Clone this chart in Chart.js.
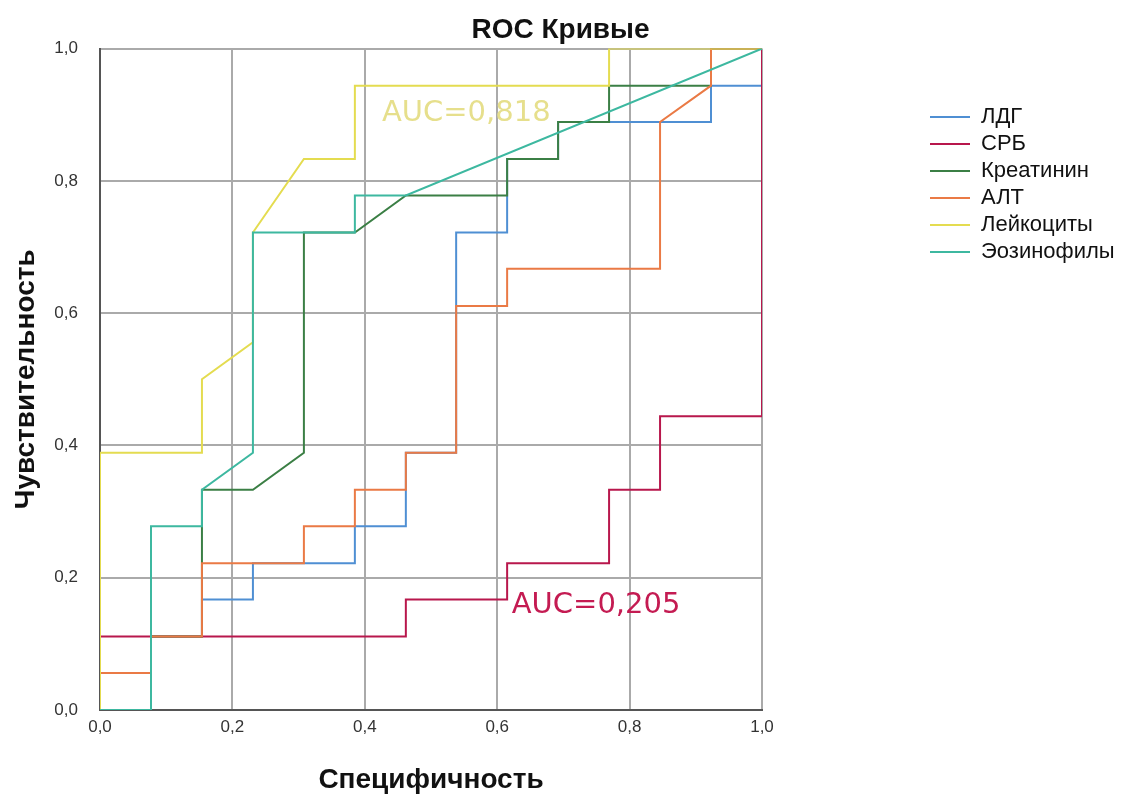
<!DOCTYPE html>
<html lang="ru">
<head>
<meta charset="utf-8">
<title>ROC Кривые</title>
<script src="https://cdn.jsdelivr.net/npm/chart.js@4.4.1/dist/chart.umd.min.js"></script>
<style>
  html, body { margin: 0; padding: 0; background: #fff; }
  .chart { position: relative; width: 1121px; height: 799px; }
</style>
</head>
<body>
<div class="chart"><canvas id="roc"></canvas></div>
<script>
// ROC step curves: x = 1 - specificity, y = sensitivity
const ldgX = [0, 0, 0.077, 0.077, 0.154, 0.154, 0.231, 0.231, 0.385, 0.385, 0.462, 0.462, 0.538, 0.538, 0.615, 0.615, 0.692, 0.692, 0.923, 0.923, 1, 1];
const ldgY = [0, 0.056, 0.056, 0.111, 0.111, 0.167, 0.167, 0.222, 0.222, 0.278, 0.278, 0.389, 0.389, 0.722, 0.722, 0.833, 0.833, 0.889, 0.889, 0.944, 0.944, 1];

const crpX = [0, 0, 0.462, 0.462, 0.615, 0.615, 0.769, 0.769, 0.846, 0.846, 1, 1];
const crpY = [0, 0.111, 0.111, 0.167, 0.167, 0.222, 0.222, 0.333, 0.333, 0.444, 0.444, 1];

const creaX = [0, 0, 0.077, 0.077, 0.154, 0.154, 0.231, 0.308, 0.308, 0.385, 0.462, 0.615, 0.615, 0.692, 0.692, 0.769, 0.769, 0.923, 0.923, 1];
const creaY = [0, 0.056, 0.056, 0.111, 0.111, 0.333, 0.333, 0.389, 0.722, 0.722, 0.778, 0.778, 0.833, 0.833, 0.889, 0.889, 0.944, 0.944, 1, 1];

const altX = [0, 0, 0.077, 0.077, 0.154, 0.154, 0.308, 0.308, 0.385, 0.385, 0.462, 0.462, 0.538, 0.538, 0.615, 0.615, 0.846, 0.846, 0.923, 0.923, 1];
const altY = [0, 0.056, 0.056, 0.111, 0.111, 0.222, 0.222, 0.278, 0.278, 0.333, 0.333, 0.389, 0.389, 0.611, 0.611, 0.667, 0.667, 0.889, 0.944, 1, 1];

const leukX = [0, 0, 0.154, 0.154, 0.231, 0.231, 0.308, 0.385, 0.385, 0.769, 0.769, 1];
const leukY = [0, 0.389, 0.389, 0.5, 0.556, 0.722, 0.833, 0.833, 0.944, 0.944, 1, 1];

const eosX = [0, 0.077, 0.077, 0.154, 0.154, 0.231, 0.231, 0.385, 0.385, 0.462, 1];
const eosY = [0, 0, 0.278, 0.278, 0.333, 0.389, 0.722, 0.722, 0.778, 0.778, 1];

const seriesNames = ['ЛДГ', 'СРБ', 'Креатинин', 'АЛТ', 'Лейкоциты', 'Эозинофилы'];
const tickLabels = ['0,0', '0,2', '0,4', '0,6', '0,8', '1,0'];
const aucTexts = ['AUC=0,818', 'AUC=0,205'];

const colors = ['#4f8fd3', '#b8174c', '#3b7f45', '#ea7a45', '#e4dc50', '#3db8a0'];
// later SPSS series sit on top
const drawOrder = [6, 5, 4, 3, 2, 1];

const curves = [[ldgX, ldgY], [crpX, crpY], [creaX, creaY], [altX, altY], [leukX, leukY], [eosX, eosY]];

const datasets = curves.map(([xs, ys], i) => ({
  label: seriesNames[i],
  data: xs.map((x, j) => ({ x, y: ys[j] })),
  borderColor: colors[i],
  backgroundColor: colors[i],
  borderWidth: 2,
  pointRadius: 0,
  tension: 0,
  order: drawOrder[i],
}));

// AUC notes, placed in data units
const aucNotes = [
  { text: aucTexts[0], x: 0.426, y: 0.902, color: '#e6df8c' },
  { text: aucTexts[1], x: 0.622, y: 0.158, color: '#c41b52' },
];

const aucPlugin = {
  id: 'aucNotes',
  afterDatasetsDraw(chart) {
    const { ctx, scales } = chart;
    ctx.save();
    ctx.font = '29px "DejaVu Sans"';
    ctx.textAlign = 'left';
    ctx.textBaseline = 'middle';
    aucNotes.forEach(n => {
      ctx.fillStyle = n.color;
      ctx.fillText(n.text, scales.x.getPixelForValue(n.x), scales.y.getPixelForValue(n.y));
    });
    ctx.restore();
  },
};

// fixed legend width so the items sit where the original has them
const legendWidthPlugin = {
  id: 'legendWidth',
  beforeInit(chart) {
    const fit = chart.legend.fit;
    chart.legend.fit = function () {
      fit.call(this);
      this.width = 196;
    };
  },
};

const sans = '"Liberation Sans", Arial, sans-serif';
const axisFont = { family: sans, size: 17 };
const titleFont = { family: sans, size: 28, weight: 'bold' };

new Chart(document.getElementById('roc'), {
  type: 'line',
  data: { datasets },
  options: {
    responsive: true,
    maintainAspectRatio: false,
    animation: false,
    layout: { padding: 0 },
    scales: {
      x: {
        type: 'linear',
        min: 0,
        max: 1,
        ticks: {
          stepSize: 0.2,
          padding: 7,
          color: '#333',
          font: axisFont,
          callback: (v, i) => tickLabels[i],
        },
        grid: { color: '#aaaaaa', lineWidth: 2, drawTicks: false },
        border: { color: '#555', width: 2 },
        title: { display: true, text: 'Специфичность', color: '#111', font: titleFont, padding: { top: 0, bottom: 2 } },
        afterFit: s => { s.height = 89; },
      },
      y: {
        type: 'linear',
        min: 0,
        max: 1,
        ticks: {
          stepSize: 0.2,
          padding: 22,
          color: '#333',
          font: axisFont,
          callback: (v, i) => tickLabels[i],
        },
        grid: { color: '#aaaaaa', lineWidth: 2, drawTicks: false },
        border: { color: '#555', width: 2 },
        title: { display: true, text: 'Чувствительность', color: '#111', font: titleFont, padding: { top: 9, bottom: 0 } },
        afterFit: s => { s.width = 100; },
      },
      gap: {
        type: 'linear',
        position: 'right',
        display: true,
        grid: { display: false },
        border: { display: false },
        ticks: { display: false },
        afterFit: s => { s.width = 163; },
      },
    },
    plugins: {
      title: {
        display: true,
        text: 'ROC Кривые',
        color: '#111',
        font: { family: sans, size: 28, weight: 'bold' },
        padding: { top: 13, bottom: 2 },
      },
      legend: {
        position: 'right',
        align: 'start',
        title: { display: true, text: ' ', font: { size: 10 }, padding: { top: 89, bottom: 0 } },
        labels: {
          usePointStyle: true,
          pointStyle: 'line',
          pointStyleWidth: 40,
          padding: 5,
          color: '#111',
          font: { family: sans, size: 22 },
          sort: (a, b) => a.datasetIndex - b.datasetIndex,
        },
      },
      tooltip: { enabled: false },
    },
  },
  plugins: [aucPlugin, legendWidthPlugin],
});
</script>
</body>
</html>
